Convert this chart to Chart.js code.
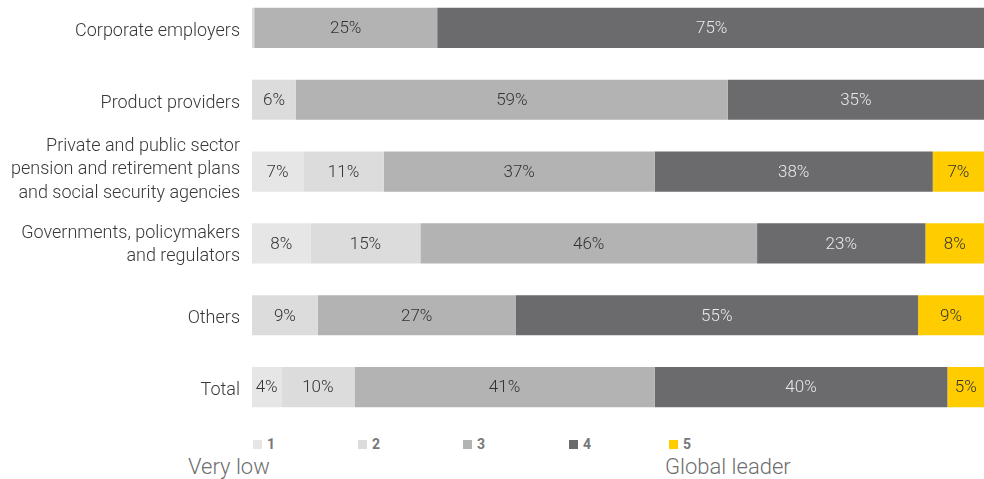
<!DOCTYPE html>
<html>
<head>
<meta charset="utf-8">
<script src="https://cdn.jsdelivr.net/npm/chart.js@4.4.1/dist/chart.umd.min.js"></script>
<style>
  html, body { margin: 0; padding: 0; background: #fff; overflow: hidden; }
  body { width: 984px; height: 479px; position: relative; font-family: Roboto, "Open Sans", sans-serif; }
  #wrap { position: absolute; left: 0; top: -8px; width: 984px; height: 431px; }
  .leg { position: absolute; top: 436px; font-size: 14px; font-weight: bold; color: #777; line-height: 16px; white-space: nowrap; }
  .leg span.box { display: inline-block; width: 9px; height: 9px; margin-right: 5px; vertical-align: 0px; }
  .end { position: absolute; top: 454px; font-size: 22px; font-weight: 300; color: #6e6e6e; line-height: 26px; white-space: nowrap; }
</style>
</head>
<body>
<div id="wrap"><canvas id="c"></canvas></div>
<div id="legend"></div>
<div class="end" style="left:188px">Very low</div>
<div class="end" style="left:665px">Global leader</div>
<script>
const categories = [
  "Corporate employers",
  "Product providers",
  ["Private and public sector", "pension and retirement plans", "and social security agencies"],
  ["Governments, policymakers", "and regulators"],
  "Others",
  "Total"
];
const seriesNames = ["1", "2", "3", "4", "5"];
const series1 = [0, 0, 7, 8, 0, 4];
const series2 = [0.3, 6, 11, 15, 9, 10];
const series3 = [25, 59, 37, 46, 27, 41];
const series4 = [75, 35, 38, 23, 55, 40];
const series5 = [0, 0, 7, 8, 9, 5];
const colors = ["#e6e6e7", "#dcdcdd", "#b3b3b4", "#6b6b6e", "#ffcc00"];
const labelColors = ["#333333", "#333333", "#333333", "#e8e8e8", "#333333"];
const legendX = [253, 358, 463, 569, 669];

const allSeries = [series1, series2, series3, series4, series5];
const FONT = "Roboto, 'Open Sans', sans-serif";

const valueLabels = {
  id: "valueLabels",
  afterDatasetsDraw(chart) {
    const ctx = chart.ctx;
    ctx.save();
    ctx.font = "300 17px " + FONT;
    ctx.textAlign = "center";
    ctx.textBaseline = "middle";
    chart.data.datasets.forEach((ds, di) => {
      const meta = chart.getDatasetMeta(di);
      meta.data.forEach((el, i) => {
        const v = ds.data[i];
        if (v < 1) return;
        const p = el.getProps(["x", "y", "base"], true);
        ctx.fillStyle = labelColors[di];
        ctx.fillText(Math.round(v) + "%", (p.x + p.base) / 2, p.y + 1);
      });
    });
    ctx.restore();
  }
};

// category labels drawn through the y scale (slight baseline shift as in the reference)
const categoryLabels = {
  id: "categoryLabels",
  afterDraw(chart) {
    const ctx = chart.ctx;
    const ys = chart.scales.y;
    const lineH = 23.5;
    const shift = { 1: 3.5, 2: 1.5, 3: -2 };
    ctx.save();
    ctx.font = "300 18px " + FONT;
    ctx.fillStyle = "#383838";
    ctx.textAlign = "right";
    ctx.textBaseline = "middle";
    chart.data.labels.forEach((lab, i) => {
      const lines = Array.isArray(lab) ? lab : [lab];
      const cy = ys.getPixelForValue(i);
      const y0 = cy - (lines.length - 1) * lineH / 2 + (shift[lines.length] || 0);
      lines.forEach((t, k) => ctx.fillText(t, 240, y0 + k * lineH));
    });
    ctx.restore();
  }
};

new Chart(document.getElementById("c"), {
  type: "bar",
  data: {
    labels: categories,
    datasets: allSeries.map((d, i) => ({
      label: seriesNames[i],
      data: d,
      backgroundColor: colors[i],
      borderWidth: 0,
      categoryPercentage: 1,
      barPercentage: 0.56
    }))
  },
  options: {
    indexAxis: "y",
    responsive: true,
    maintainAspectRatio: false,
    animation: false,
    layout: { padding: 0 },
    plugins: { legend: { display: false }, tooltip: { enabled: false } },
    scales: {
      x: { stacked: true, min: 0, max: 100, display: false },
      y: {
        stacked: true,
        grid: { display: false, drawTicks: false },
        border: { display: false },
        ticks: { display: false },
        afterFit(scale) { scale.width = 252; scale.paddingTop = 0; scale.paddingBottom = 0; }
      }
    }
  },
  plugins: [valueLabels, categoryLabels]
});

const legend = document.getElementById("legend");
seriesNames.forEach((n, i) => {
  const d = document.createElement("div");
  d.className = "leg";
  d.style.left = legendX[i] + "px";
  d.innerHTML = '<span class="box" style="background:' + colors[i] + '"></span>' + n;
  legend.appendChild(d);
});
</script>
</body>
</html>
